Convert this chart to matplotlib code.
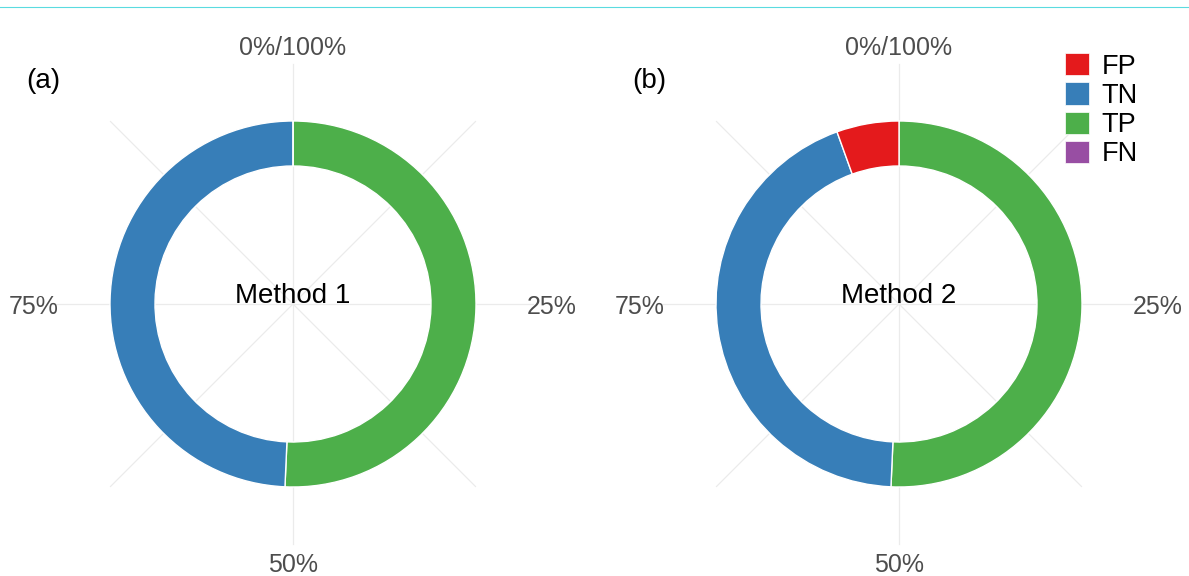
import matplotlib.pyplot as plt
from matplotlib.patches import Patch
from matplotlib.lines import Line2D
import numpy as np

plt.rcParams['font.family'] = ['Liberation Sans', 'DejaVu Sans']

# class shares (%) for each method, legend order
classes = ['FP', 'TN', 'TP', 'FN']
colors = ['#E41A1C', '#377EB8', '#4DAF4A', '#984EA3']
method1 = [0.0, 49.3, 50.7, 0.0]
method2 = [5.5, 43.8, 50.7, 0.0]
theta_breaks = [0, 25, 50, 75]
theta_labels = ['0%/100%', '25%', '50%', '75%']

W, H = 1189, 576
SCALE = 183.0   # pixels per unit radius
fig = plt.figure(figsize=(W / 100, H / 100), dpi=100)


def draw_panel(ax, values, title, tag, cx, ax_w):
    cy = H - 304
    ax.axis('off')

    # theta grid: major at the breaks, minor halfway between
    for b in theta_breaks:
        a = np.pi / 2 - 2 * np.pi * b / 100
        ax.plot([0, 1.31 * np.cos(a)], [0, 1.31 * np.sin(a)],
                color='#ebebeb', lw=0.9, zorder=0)
        am = np.pi / 2 - 2 * np.pi * (b + 12.5) / 100
        ax.plot([0, 1.41 * np.cos(am)], [0, 1.41 * np.sin(am)],
                color='#ebebeb', lw=0.9, zorder=0)
    for b, lab in zip(theta_breaks, theta_labels):
        a = np.pi / 2 - 2 * np.pi * b / 100
        ax.text(1.415 * np.cos(a), 1.415 * np.sin(a) - 2.5 / SCALE, lab,
                ha='center', va='center', fontsize=18, color='#4d4d4d')

    # stacked from the top clockwise: last class first
    ax.pie(values[::-1], colors=colors[::-1], startangle=90,
           counterclock=False, radius=1.0,
           wedgeprops=dict(width=45 / SCALE, edgecolor='white', linewidth=1.0))
    ax.set_xlim(-cx / SCALE, (ax_w - cx) / SCALE)
    ax.set_ylim(-cy / SCALE, (H - cy) / SCALE)
    ax.set_aspect('equal')

    ax.text(0, 0.045, title, ha='center', va='center', fontsize=20,
            color='black')
    ax.text(-250 / SCALE, 223 / SCALE, tag, ha='center', va='center',
            fontsize=20, color='black')


half = W / 2
ax1 = fig.add_axes([0, 0, 0.5, 1])
draw_panel(ax1, method1, 'Method 1', '(a)', 293, half)
ax2 = fig.add_axes([0.5, 0, 0.5, 1])
draw_panel(ax2, method2, 'Method 2', '(b)', 899 - half, half)

handles = [Patch(facecolor=c, edgecolor='white', linewidth=0.5) for c in colors]
fig.legend(handles, classes, loc='upper left',
           bbox_to_anchor=(1065 / W, 1 - 53 / H), frameon=False,
           fontsize=19.5, handlelength=0.9, handleheight=0.9,
           handletextpad=0.45, labelspacing=0.1, borderaxespad=0,
           borderpad=0)

# thin rule across the top
fig.add_artist(Line2D([0, 1], [1 - 7 / H, 1 - 7 / H],
                      color='#5adbe0', lw=0.8, transform=fig.transFigure))

fig.savefig('out.png', dpi=100)
